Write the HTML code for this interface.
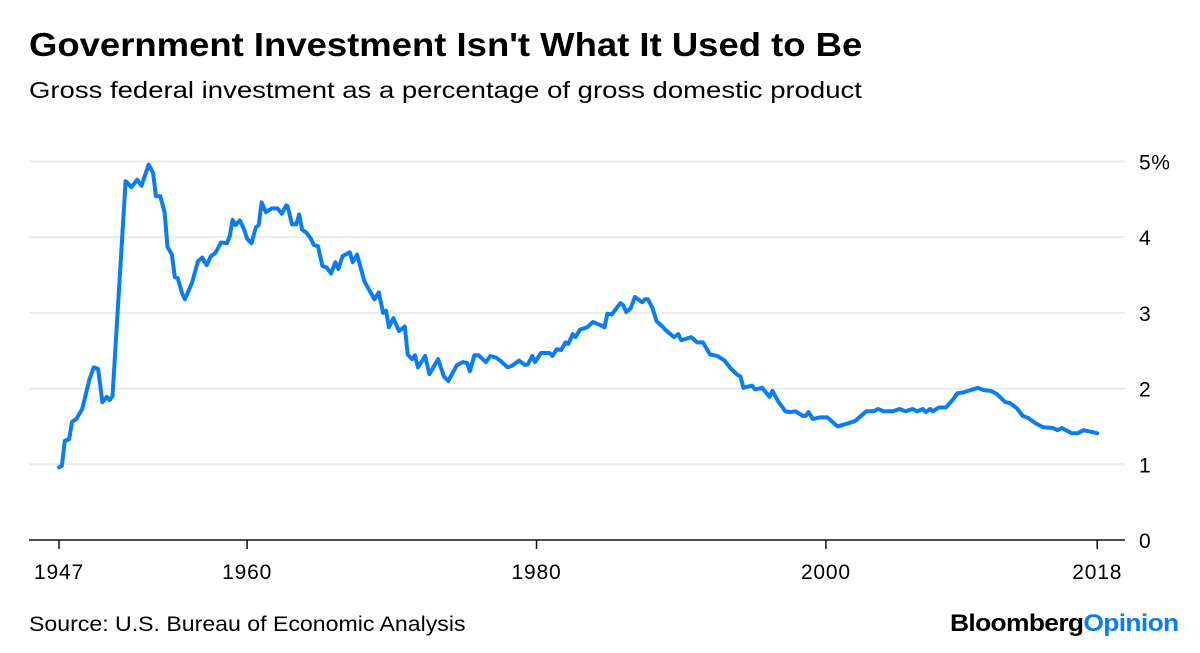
<!DOCTYPE html>
<html><head><meta charset="utf-8">
<style>
body{margin:0;background:#fff;font-family:"Liberation Sans",Arial,sans-serif;}
#wrap{position:relative;width:1200px;height:653px;overflow:hidden;background:#fff;}
.t{position:absolute;white-space:nowrap;color:#000;transform-origin:0 0;}
</style></head>
<body>
<div id="wrap">
<div class="t" style="left:29px;top:26px;font-size:33px;font-weight:bold;transform:scaleX(1.105);">Government Investment Isn't What It Used to Be</div>
<div class="t" style="left:29px;top:77px;font-size:23.5px;transform:scaleX(1.17);">Gross federal investment as a percentage of gross domestic product</div>
<svg id="chart" width="1200" height="653" style="position:absolute;left:0;top:0;"></svg>
<div class="t" style="left:29px;top:613px;font-size:21px;transform:scaleX(1.1);">Source: U.S. Bureau of Economic Analysis</div>
<div class="t" style="left:950px;top:610px;font-size:24px;font-weight:bold;letter-spacing:-0.6px;transform:scaleX(1.1);">Bloomberg<span style="color:#0a7cf4">Opinion</span></div>
</div>
<script>
const years=[1947.0,1947.2,1947.4,1947.7,1947.9,1948.2,1948.6,1949.1,1949.4,1949.7,1950.0,1950.3,1950.5,1950.7,1951.6,1952.0,1952.4,1952.7,1953.2,1953.5,1953.7,1954.0,1954.3,1954.5,1954.8,1955.0,1955.2,1955.5,1955.7,1956.2,1956.6,1956.9,1957.2,1957.5,1957.8,1958.2,1958.6,1958.8,1959.0,1959.2,1959.5,1959.8,1960.0,1960.3,1960.6,1960.8,1961.0,1961.3,1961.7,1962.1,1962.4,1962.7,1962.8,1963.1,1963.4,1963.6,1963.8,1964.1,1964.4,1964.6,1964.9,1965.2,1965.5,1965.8,1966.1,1966.3,1966.6,1967.1,1967.3,1967.6,1968.1,1968.8,1969.1,1969.4,1969.6,1969.8,1970.1,1970.5,1970.9,1971.1,1971.4,1971.6,1971.8,1972.3,1972.6,1973.2,1973.6,1973.9,1974.5,1974.9,1975.2,1975.4,1975.7,1976.0,1976.5,1976.8,1977.2,1977.5,1978.0,1978.3,1978.8,1979.2,1979.4,1979.7,1979.9,1980.3,1980.9,1981.1,1981.4,1981.7,1982.0,1982.2,1982.5,1982.7,1983.0,1983.5,1983.9,1984.4,1984.7,1984.9,1985.2,1985.8,1986.0,1986.2,1986.5,1986.8,1987.3,1987.5,1987.7,1988.0,1988.3,1988.7,1989.0,1989.5,1989.8,1990.0,1990.7,1991.1,1991.5,1992.0,1992.5,1993.0,1993.4,1993.9,1994.1,1994.3,1994.9,1995.1,1995.6,1996.1,1996.3,1996.7,1997.2,1997.5,1997.9,1998.4,1998.6,1998.8,1999.1,1999.6,2000.1,2000.8,2001.5,2002.0,2002.8,2003.3,2003.6,2004.0,2004.6,2005.1,2005.5,2006.0,2006.3,2006.7,2006.9,2007.2,2007.4,2007.8,2008.3,2008.8,2009.1,2009.5,2010.0,2010.5,2010.9,2011.4,2011.8,2012.4,2012.7,2013.2,2013.6,2014.0,2014.5,2015.0,2015.7,2016.0,2016.3,2017.0,2017.4,2017.8,2018.3,2018.75];
const values=[0.96,0.98,1.31,1.33,1.56,1.60,1.73,2.12,2.28,2.26,1.82,1.89,1.85,1.90,4.74,4.66,4.76,4.68,4.96,4.85,4.54,4.54,4.33,3.87,3.77,3.47,3.46,3.26,3.18,3.40,3.68,3.73,3.63,3.75,3.79,3.93,3.92,4.01,4.23,4.16,4.22,4.10,3.98,3.92,4.13,4.16,4.46,4.33,4.38,4.38,4.31,4.42,4.41,4.17,4.17,4.30,4.10,4.06,3.98,3.90,3.88,3.62,3.60,3.52,3.67,3.58,3.75,3.80,3.67,3.77,3.42,3.18,3.27,3.00,3.03,2.81,2.93,2.76,2.82,2.45,2.39,2.44,2.28,2.43,2.19,2.39,2.16,2.10,2.31,2.35,2.34,2.23,2.44,2.44,2.35,2.43,2.41,2.37,2.28,2.30,2.37,2.31,2.32,2.43,2.35,2.47,2.47,2.43,2.52,2.51,2.61,2.59,2.72,2.68,2.78,2.81,2.88,2.84,2.81,2.99,2.98,3.13,3.10,3.01,3.06,3.21,3.14,3.18,3.18,3.07,2.89,2.82,2.76,2.68,2.72,2.64,2.68,2.61,2.61,2.45,2.43,2.37,2.27,2.18,2.16,2.01,2.04,1.99,2.01,1.89,1.97,1.83,1.70,1.69,1.70,1.64,1.64,1.69,1.60,1.62,1.62,1.50,1.54,1.57,1.70,1.70,1.73,1.70,1.70,1.73,1.70,1.73,1.70,1.73,1.69,1.73,1.70,1.75,1.75,1.86,1.94,1.95,1.98,2.01,1.98,1.97,1.93,1.82,1.81,1.74,1.64,1.61,1.54,1.49,1.48,1.45,1.48,1.41,1.41,1.45,1.43,1.41];
const yTicks=[0,1,2,3,4,5];
const yTickLabels=["0","1","2","3","4","5%"];
const xTicks=[1947,1960,1980,2000,2018.75];
const xTickLabels=["1947","1960","1980","2000","2018"];

const NS="http://www.w3.org/2000/svg";
const svg=document.getElementById('chart');
const x=yr=>59+(yr-1947)*14.47;
const y=v=>540-v*75.7;
function mk(tag,attrs){const e=document.createElementNS(NS,tag);for(const k in attrs)e.setAttribute(k,attrs[k]);svg.appendChild(e);return e;}
yTicks.forEach((v,i)=>{
  if(v>0){const g=mk('line',{x1:29,x2:1125,y1:y(v),y2:y(v),stroke:'#ebebeb','stroke-width':2});
  
  }
  const t=mk('text',{x:1139,y:y(v)+8,'font-size':21,'letter-spacing':0.6,'font-family':'Liberation Sans, Arial, sans-serif',fill:'#000'});
  t.textContent=yTickLabels[i];
  
  
});
const ax=mk('line',{x1:29,x2:1125,y1:540,y2:540,stroke:'#111','stroke-width':1.5});


xTicks.forEach((yr,i)=>{
  const tk=mk('line',{x1:x(yr),x2:x(yr),y1:540,y2:549,stroke:'#111','stroke-width':1.5});
  
  
  const t=mk('text',{x:x(yr),y:579,'text-anchor':'middle','font-size':21,'letter-spacing':0.8,'font-family':'Liberation Sans, Arial, sans-serif',fill:'#000'});
  t.textContent=xTickLabels[i];
  
  
});
const d=years.map((yr,i)=>(i?'L':'M')+x(yr).toFixed(1)+','+y(values[i]).toFixed(1)).join('');
const p=mk('path',{d:d,fill:'none',stroke:'#0a7cf4','stroke-width':4,'stroke-linejoin':'round','stroke-linecap':'round'});


</script>
</body></html>
